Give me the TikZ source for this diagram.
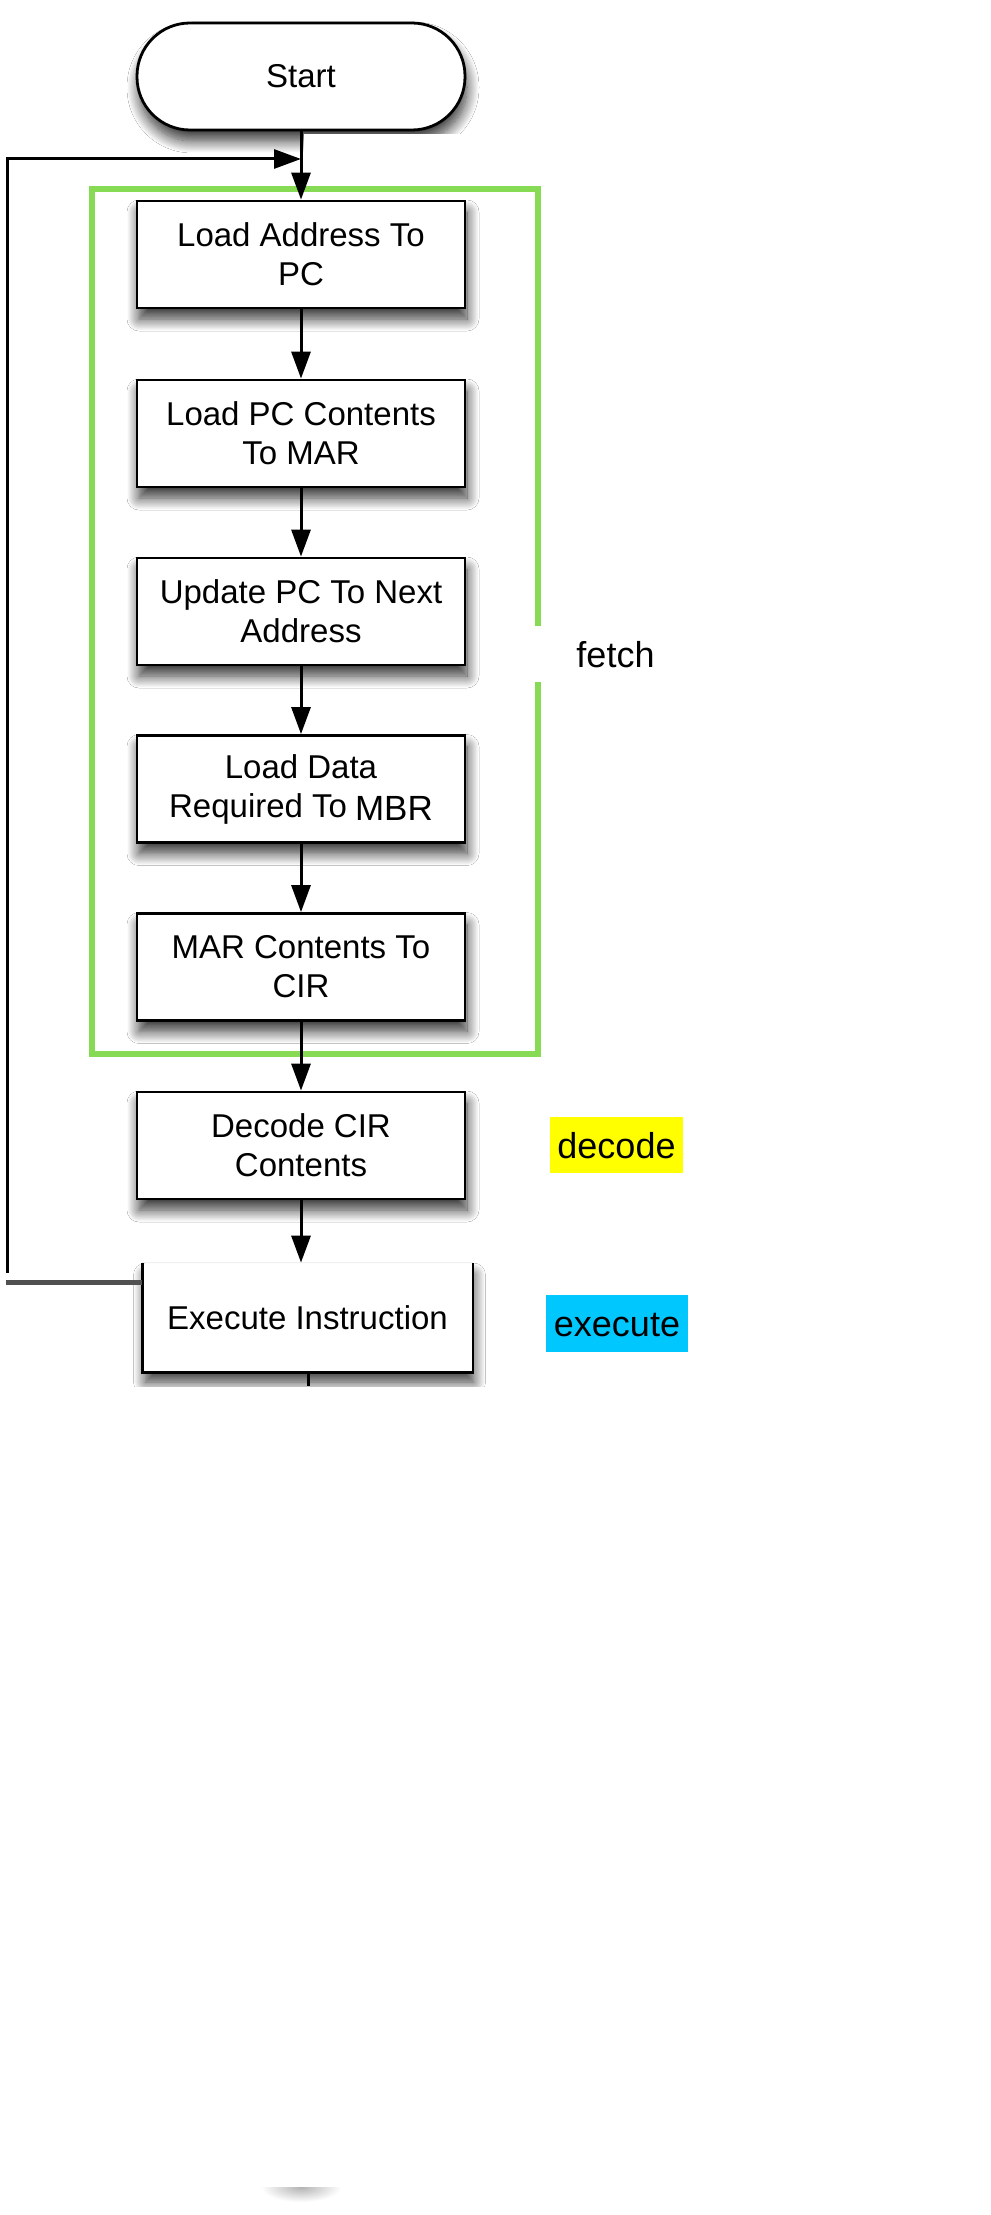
\documentclass[tikz,border=0pt]{standalone}
\usepackage{fontspec}
\setmainfont{Liberation Sans}
\usetikzlibrary{arrows.meta,shadows.blur}
\definecolor{fetchgreen}{RGB}{134,218,84}
\definecolor{decodeyellow}{RGB}{255,255,0}
\definecolor{execcyan}{RGB}{0,200,255}
\definecolor{loopgray}{RGB}{80,80,80}
\newcommand\boxfont{\fontsize{33}{39}\selectfont}
\newcommand\labfont{\fontsize{36}{40}\selectfont}
\begin{document}
\begin{tikzpicture}[x=1pt,y=-1pt,
  softshadow/.style={blur shadow={shadow xshift=2pt, shadow yshift=-11pt, shadow blur radius=12pt, shadow blur steps=16, shadow opacity=80}},
  stepbox/.style={draw, line width=2.8pt, fill=white, minimum width=328pt, minimum height=107pt, inner sep=0pt, align=center, font=\boxfont, softshadow},
  startbox/.style={stepbox, rounded corners=53pt},
  flow/.style={line width=3pt, -{Triangle[length=27pt,width=19pt]}},
  plainline/.style={line width=3pt},
  grouping/.style={draw=fetchgreen, line width=5.5pt},
  tag/.style={font=\labfont, inner sep=0pt, text height=26pt, text depth=0pt}
]
\useasboundingbox (0,0) rectangle (990,2215);
\fill[white] (0,0) rectangle (990,2215);

% fetch group frame (with gap for the label)
\draw[grouping] (538,626) -- (538,189) -- (92,189) -- (92,1054) -- (538,1054) -- (538,682);
\node[tag] (fetch) at (615.5,654) {fetch};

% start
\node[startbox] (start) at (301,76.5) {Start};
\fill[white] (304,134) rectangle (990,175);

% steps
\node[stepbox] (b1) at (301,254.5) {Load Address To\\PC};
\node[stepbox] (b2) at (301,433.5) {Load PC Contents\\To MAR};
\node[stepbox] (b3) at (301,611.5) {Update PC To Next\\Address};
\node[stepbox] (b4) at (301,789) {Load Data\\Required To\hspace{8pt}\raisebox{-3pt}{\fontsize{35}{39}\selectfont MBR}};
\node[stepbox] (b5) at (301,967) {MAR Contents To\\CIR};
\node[stepbox] (dec) at (301,1145.5) {Decode CIR\\Contents};
\node[stepbox, draw=none] (exe) at (307.5,1317.5) {Execute Instruction};
\draw[line width=2.8pt] (exe.north west) -- (exe.south west) -- (exe.south east) -- (exe.north east);
\draw[gray!12, line width=1pt] (exe.north west) -- (exe.north east);
\fill[white] (100,1387) rectangle (540,1440);

% stage tags
\node[tag, fill=decodeyellow, minimum width=133pt, minimum height=56pt] (dtag) at (616.5,1145) {decode};
\node[tag, fill=execcyan, minimum width=142pt, minimum height=57pt] (etag) at (617,1323) {execute};

% connectors
\coordinate (merge) at (301,159);
\coordinate (loopdown) at (7,1273);
\coordinate (loopup) at (7,159);
\coordinate (grayend) at (6,1282);
\coordinate (exeout) at (308,1386);
\draw[flow] (start.south) -- (b1.north);
\draw[flow] (loopdown) -- (loopup) -- (merge);
\draw[flow] (b1.south) -- (b2.north);
\draw[flow] (b2.south) -- (b3.north);
\draw[flow] (b3.south) -- (b4.north);
\draw[flow] (b4.south) -- (b5.north);
\draw[flow] (b5.south) -- (dec.north);
\draw[flow] (dec.south) -- (exe.north -| dec.south);
\draw[draw=loopgray, line width=5pt] (grayend) -- (exe.west |- grayend);
\draw[plainline] (exe.south -| exeout) -- (exeout);

% faint trace of a hidden shadow at the bottom
\begin{scope}
  \clip (255,2187) rectangle (350,2215);
  \shade[inner color=black!30, outer color=white] (301,2187) ellipse [x radius=40, y radius=15];
\end{scope}
\end{tikzpicture}
\end{document}
